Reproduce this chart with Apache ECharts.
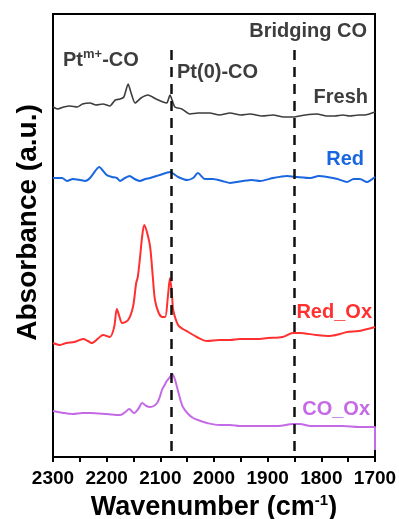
<!DOCTYPE html>
<html>
<head>
    <meta charset="UTF-8">
    <title>CO-DRIFTS spectra</title>
    <script src="https://cdn.jsdelivr.net/npm/echarts@6/dist/echarts.min.js"></script>
    <style>
        html, body { margin: 0; padding: 0; background: #fff; }
    </style>
</head>
<body>
<div id="ir" style="width: 399px;height:519px;"></div>

<script type="text/javascript">
    // wavenumber ticks (cm-1), x axis runs high -> low
    var xTicks = [2300, 2200, 2100, 2000, 1900, 1800, 1700];
    // reference lines: Pt(0)-CO and bridging CO
    var refLines = [2080, 1850];

    // spectra, [wavenumber, absorbance (offset, a.u.)]
    var fresh = [
        [2300, 350], [2291, 348], [2280, 350], [2268, 351], [2255, 350], [2245, 353], [2231, 354],
        [2220, 352], [2207, 353], [2194, 351], [2184, 357], [2175, 358], [2168, 360], [2160, 373],
        [2155, 365], [2147, 354], [2136, 359], [2123, 362], [2108, 358], [2095, 355], [2088, 354],
        [2082, 362], [2073, 350], [2060, 348], [2045, 343], [2030, 344], [2008, 344], [1990, 342],
        [1970, 344], [1950, 342], [1933, 343], [1910, 341], [1890, 342], [1870, 340], [1853, 340],
        [1830, 342], [1808, 343], [1790, 341], [1775, 341], [1760, 342], [1747, 341], [1730, 342],
        [1719, 342], [1700, 345]
    ];
    var red = [
        [2300, 279], [2283, 279], [2274, 276], [2263, 278], [2250, 277], [2240, 276], [2231, 279],
        [2214, 290], [2200, 282], [2190, 280], [2181, 279], [2175, 276], [2166, 279], [2157, 281],
        [2148, 278], [2138, 276], [2128, 278], [2119, 279], [2101, 282], [2082, 285], [2067, 280],
        [2050, 277], [2039, 279], [2030, 284], [2017, 278], [2002, 278], [1985, 276], [1970, 274],
        [1958, 275], [1946, 276], [1930, 277], [1914, 276], [1890, 279], [1864, 281], [1845, 280],
        [1820, 279], [1805, 281], [1789, 280], [1770, 278], [1752, 275], [1740, 278], [1728, 278],
        [1715, 275], [1700, 280]
    ];
    var redOx = [
        [2300, 114], [2287, 112], [2275, 114], [2260, 115], [2244, 118], [2235, 116], [2228, 114],
        [2215, 119], [2207, 122], [2194, 120], [2186, 130], [2181, 148], [2176, 140], [2171, 134],
        [2160, 137], [2151, 150], [2145, 174], [2142, 180], [2137, 204], [2134, 220], [2130, 232],
        [2125, 225], [2119, 210], [2114, 180], [2110, 157], [2103, 144], [2096, 140], [2091, 140],
        [2086, 160], [2082, 179], [2078, 160], [2076, 147], [2067, 132], [2058, 128], [2048, 125],
        [2032, 120], [2013, 116], [1990, 117], [1970, 117], [1952, 118], [1920, 118], [1900, 119],
        [1872, 120], [1853, 124], [1840, 124], [1810, 122], [1784, 121], [1765, 123], [1752, 125],
        [1730, 126], [1700, 130]
    ];
    var coOx = [
        [2300, 46], [2280, 44], [2263, 43], [2245, 44], [2231, 44], [2200, 43], [2175, 42],
        [2165, 45], [2158, 48], [2149, 44], [2140, 49], [2134, 54], [2126, 51], [2119, 50],
        [2112, 51], [2106, 54], [2101, 60], [2097, 67], [2092, 72], [2088, 76], [2082, 80],
        [2078, 83], [2073, 78], [2069, 70], [2063, 58], [2058, 50], [2048, 43], [2039, 39],
        [2025, 36], [2013, 34], [1990, 32], [1970, 32], [1952, 31], [1920, 31], [1880, 31],
        [1853, 33], [1840, 33], [1820, 31], [1800, 31], [1760, 31], [1730, 30], [1700, 30],
        [1700, 7]
    ];

    var boldFont = 'Liberation Sans, Arial, sans-serif';

    var irChart = echarts.init(document.getElementById('ir'));

    function labelText(x, y, text, color, align) {
        return {
            type: 'text',
            x: x,
            y: y,
            style: {
                text: text,
                fill: color,
                font: 'bold 20px ' + boldFont,
                align: align || 'left',
                verticalAlign: 'middle'
            }
        };
    }

    var option = {
        animation: false,
        grid: {
            left: 53, right: 24, top: 14, bottom: 62,
            outerBoundsMode: 'none',
            show: true, borderColor: '#000', borderWidth: 2
        },
        xAxis: {
            type: 'value',
            inverse: true,
            min: 1700,
            max: 2300,
            interval: 100,
            name: '{a|Wavenumber (cm}{s|-1}{a|)}',
            nameLocation: 'middle',
            nameGap: 35,
            nameTextStyle: {
                rich: {
                    a: { fontSize: 27, fontWeight: 'bold', fontFamily: boldFont, color: '#000', lineHeight: 30 },
                    s: { fontSize: 15, fontWeight: 'bold', fontFamily: boldFont, color: '#000', lineHeight: 30, verticalAlign: 'top', padding: [0, 0, 10, 0] }
                }
            },
            axisLine: { onZero: false, lineStyle: { color: '#000', width: 2 } },
            axisTick: { inside: false, length: 5, lineStyle: { color: '#000', width: 2 } },
            minorTick: { show: true, splitNumber: 2, length: 5, lineStyle: { color: '#000', width: 2 } },
            axisLabel: {
                margin: 12,
                color: '#000',
                fontSize: 19,
                fontWeight: 'bold',
                fontFamily: boldFont,
                formatter: function (v) { return xTicks.indexOf(v) >= 0 ? String(v) : ''; }
            },
            splitLine: { show: false }
        },
        yAxis: {
            type: 'value',
            min: 0,
            max: 443,
            name: 'Absorbance (a.u.)',
            nameLocation: 'middle',
            nameGap: 11,
            nameTextStyle: {
                fontSize: 28, fontWeight: 'bold', fontFamily: boldFont, color: '#000',
                padding: [0, 0, 0, 26]
            },
            axisLine: { show: true, lineStyle: { color: '#000', width: 2 } },
            axisTick: { show: false },
            axisLabel: { show: false },
            splitLine: { show: false }
        },
        series: [
            {
                name: 'Fresh', type: 'line', data: fresh, showSymbol: false, smooth: 0.2,
                lineStyle: { color: '#3d3d3d', width: 1.6 },
                markLine: {
                    silent: true,
                    symbol: 'none',
                    label: { show: false },
                    lineStyle: { color: '#111', width: 2.5, type: [10, 7] },
                    data: refLines.map(function (w) {
                        return [{ coord: [w, 407] }, { coord: [w, 0] }];
                    })
                }
            },
            {
                name: 'Red', type: 'line', data: red, showSymbol: false, smooth: 0.2,
                lineStyle: { color: '#1a66e0', width: 2 }
            },
            {
                name: 'Red_Ox', type: 'line', data: redOx, showSymbol: false, smooth: 0.3,
                lineStyle: { color: '#ff3030', width: 2 }
            },
            {
                name: 'CO_Ox', type: 'line', data: coOx, showSymbol: false, smooth: 0.3,
                lineStyle: { color: '#c56ae6', width: 2 }
            }
        ],
        graphic: [
            {
                type: 'text', x: 63, y: 60,
                style: {
                    text: '{a|Pt}{s|m+}{a|-CO}',
                    verticalAlign: 'middle',
                    rich: {
                        a: { fill: '#3d3d3d', font: 'bold 20px ' + boldFont, lineHeight: 24 },
                        s: { fill: '#3d3d3d', font: 'bold 13px ' + boldFont, lineHeight: 24, verticalAlign: 'top' }
                    }
                }
            },
            labelText(177, 72, 'Pt(0)-CO', '#3d3d3d'),
            labelText(367, 31, 'Bridging CO', '#3d3d3d', 'right'),
            labelText(368, 97, 'Fresh', '#3d3d3d', 'right'),
            labelText(364, 159, 'Red', '#1a66e0', 'right'),
            labelText(372, 312, 'Red_Ox', '#ff3030', 'right'),
            labelText(370, 409, 'CO_Ox', '#c56ae6', 'right')
        ]
    };

    irChart.setOption(option);
</script>
</body>
</html>
